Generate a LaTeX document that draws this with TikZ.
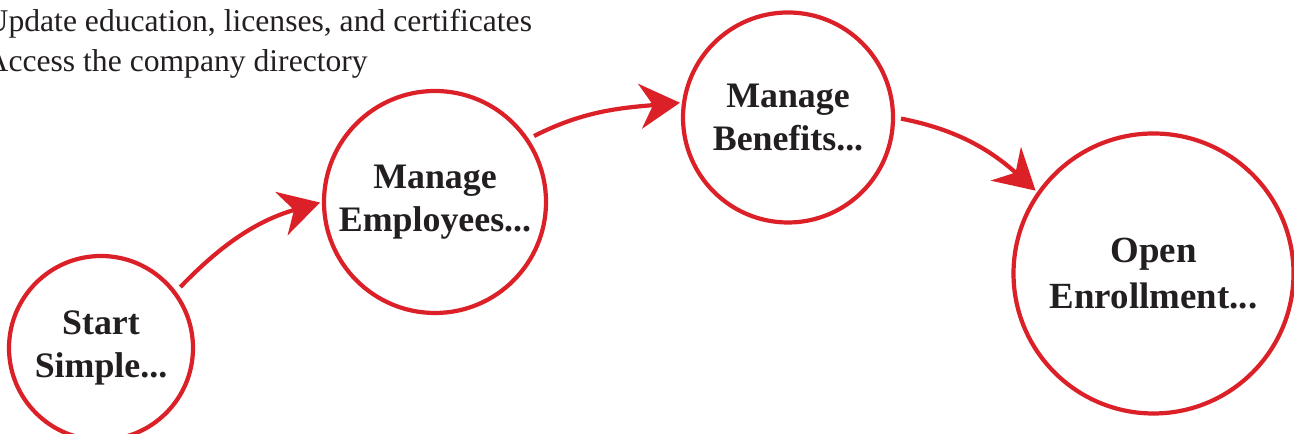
\documentclass[tikz,border=0pt]{standalone}
\usepackage{fontspec}
\setmainfont{Liberation Serif}
\usetikzlibrary{arrows.meta}
\definecolor{stagered}{RGB}{219,32,40}
\definecolor{inkgray}{RGB}{35,31,32}

\begin{document}
\begin{tikzpicture}[
    stage/.style={circle, draw=stagered, line width=1.2pt, text=inkgray, align=center,
        inner sep=0pt, font=\bfseries\fontsize{10.2}{12.4}\selectfont},
    flow/.style={draw=stagered, line width=1.2pt,
        -{Stealth[length=4mm, width=4.5mm, inset=1.3mm]},
        shorten <=0.6mm, shorten >=0.2mm},
    task/.style={anchor=base west, inner sep=0pt, text=inkgray, font=\fontsize{9}{11.4}\selectfont}
]
\useasboundingbox (0,0) rectangle (12.94,4.34);

% task list in the corner
\node[task] (task1) at (-0.15,4.02) {Update education, licenses, and certificates};
\node[task] (task2) at (-0.15,3.62) {Access the company directory};

% stages
\node[stage, minimum size=1.84cm] (start) at (1.01,0.86)  {Start\\Simple...};
\node[stage, minimum size=2.22cm] (emp)   at (4.35,2.32)  {Manage\\Employees...};
\node[stage, minimum size=2.10cm] (ben)   at (7.88,3.165) {Manage\\Benefits...};
\node[stage, minimum size=2.80cm, font=\bfseries\fontsize{10.5}{13}\selectfont]
    (enr) at (11.535,1.605) {Open\\Enrollment...};

% arrows between stages
\draw[flow] (start.37) to[out=46, in=196] (emp.180);
\draw[flow] (emp.34)   to[out=27, in=185] (ben.172);
\draw[flow] (ben.0)    to[out=-11, in=138] (enr.145);
\end{tikzpicture}
\end{document}
